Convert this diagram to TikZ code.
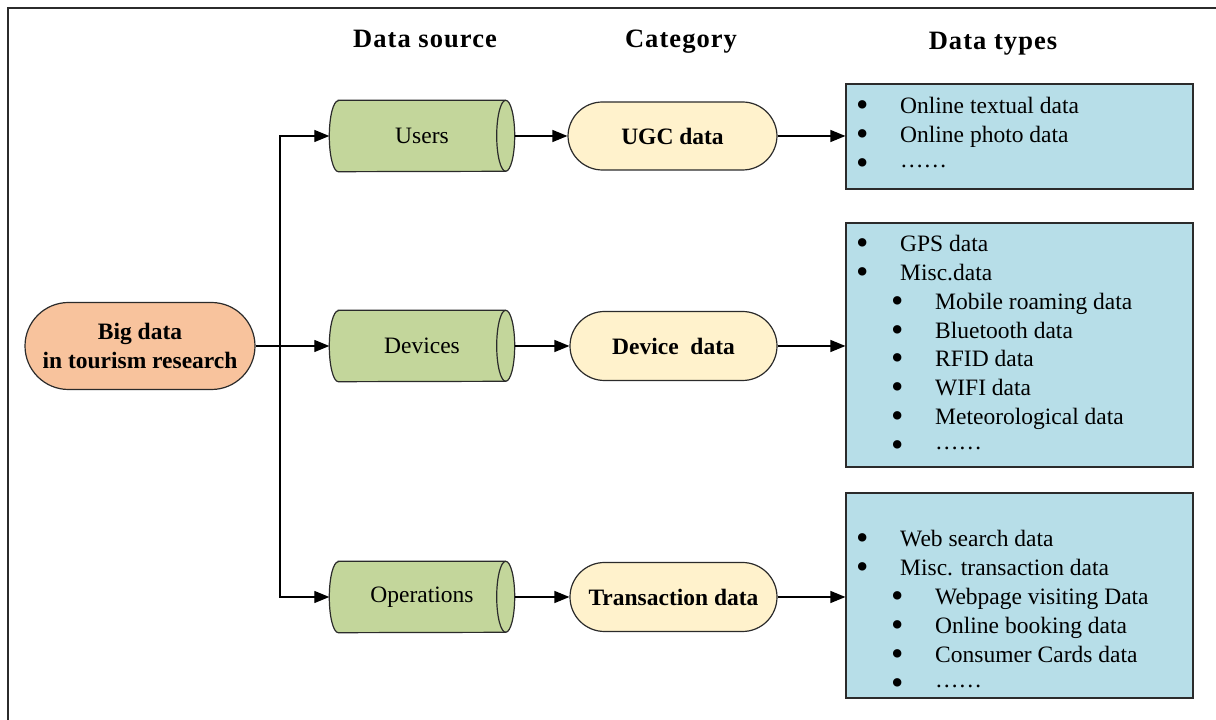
\documentclass[tikz,border=0pt]{standalone}
\usepackage{fontspec}
\usepackage{graphicx}
\setmainfont{Liberation Serif}
\newfontfamily\hdrfont[LetterSpace=4]{Liberation Serif}
\usetikzlibrary{arrows.meta,calc,backgrounds}

\definecolor{peach}{HTML}{F8C39D}
\definecolor{sage}{HTML}{C3D69B}
\definecolor{cream}{HTML}{FFF2CC}
\definecolor{paleblue}{HTML}{B7DEE8}
\definecolor{edge}{HTML}{2B2B2B}

% horizontal cylinder drawn behind a (borderless) node
\newcommand\cylbody[1]{%
  \begin{scope}[on background layer]
    \filldraw[draw=edge, fill=sage, line width=1.2pt]
      ($(#1.north west)+(9,0)$) -- ($(#1.north east)+(-9,0)$)
      arc[start angle=90, end angle=-90, x radius=9, y radius=35.5]
      -- ($(#1.south west)+(9,0)$)
      arc[start angle=270, end angle=90, x radius=9, y radius=35.5] -- cycle;
    \draw[edge, line width=1.2pt] ($(#1.north east)+(-9,0)$)
      arc[start angle=90, end angle=270, x radius=9, y radius=35.5];
  \end{scope}}

\begin{document}
\begin{tikzpicture}[x=1pt, y=1pt,
  every node/.style={inner sep=0pt, font=\fontsize{23.5}{29}\selectfont},
  hdr/.style={anchor=base, font=\fontsize{26.5}{30}\selectfont\hdrfont\bfseries},
  arr/.style={draw=black, line width=1.3pt, -{Triangle[length=15pt, width=12pt]}},
  rootbox/.style={draw=edge, line width=1.2pt, fill=peach, minimum width=230pt,
    minimum height=87pt, rounded corners=43.5pt, align=center,
    font=\fontsize{23.5}{29}\selectfont\bfseries},
  srcbox/.style={minimum width=185pt, minimum height=71pt},
  catbox/.style={draw=edge, line width=1.2pt, fill=cream, minimum width=207pt,
    minimum height=69pt, rounded corners=34.5pt,
    font=\fontsize{23.5}{29}\selectfont\bfseries},
  typebox/.style={draw=edge, line width=1.2pt, fill=paleblue, minimum width=347pt},
  item/.style={anchor=base west},
]
\useasboundingbox (0,0) rectangle (1216,720);

% outer frame (top and left edges)
\draw[edge, line width=2.5pt] (8,0) -- (8,712) -- (1216,712);

% column headings
\node[hdr] (hsrc) at (425,672) {Data source};
\node[hdr] (hcat) at (681,672) {Category};
\node[hdr] (htyp) at (993,670) {Data types};

% root
\node[rootbox] (root) at (140,374) {Big data\\in tourism research};

% data sources
\node[srcbox] (users) at (422,584) {Users};
\node[srcbox] (devices) at (422,374) {Devices};
\node[srcbox] (ops) at (422,123) {Operations};
\cylbody{users}
\cylbody{devices}
\cylbody{ops}

% categories
\node[catbox, minimum width=209pt, minimum height=68pt] (ugc) at (672.5,584) {UGC data};
\node[catbox] (dev) at (673.5,374) {Device\ \ data};
\node[catbox] (trans) at (673.5,123) {Transaction data};

% data type boxes
\node[typebox, minimum height=105pt] (t1) at (1019.5,583.5) {};
\node[typebox, minimum height=244pt] (t2) at (1019.5,375) {};
\node[typebox, minimum height=205pt] (t3) at (1019.5,124.5) {};

\newcommand\lvla[1]{\makebox[0pt]{\raisebox{-2.2pt}{\scalebox{1.5}{\textbullet}}}\hspace{38pt}#1}
\newcommand\dotsrow{\raisebox{4pt}{……}}

\node[item] (t1a) at (862,606) {\lvla{Online textual data}};
\node[item] (t1b) at (862,577) {\lvla{Online photo data}};
\node[item] (t1c) at (862,548) {\lvla{\dotsrow}};

\node[item] (t2a) at (862,468) {\lvla{GPS data}};
\node[item] (t2b) at (862,439) {\lvla{Misc.data}};
\node[item] (t2c) at (897,410) {\lvla{Mobile roaming data}};
\node[item] (t2d) at (897,381) {\lvla{Bluetooth data}};
\node[item] (t2e) at (897,353) {\lvla{RFID data}};
\node[item] (t2f) at (897,324) {\lvla{WIFI data}};
\node[item] (t2g) at (897,295) {\lvla{Meteorological data}};
\node[item] (t2h) at (897,266) {\lvla{\dotsrow}};

\node[item] (t3a) at (862,173) {\lvla{Web search data}};
\node[item] (t3b) at (862,144) {\lvla{Misc. transaction data}};
\node[item] (t3c) at (897,115) {\lvla{Webpage visiting Data}};
\node[item] (t3d) at (897,86) {\lvla{Online booking data}};
\node[item] (t3e) at (897,57) {\lvla{Consumer Cards data}};
\node[item] (t3f) at (897,28) {\lvla{\dotsrow}};

% connectors
\coordinate (trunk) at (280,374);
\draw[arr] (root.east) -- (devices.west);
\draw[arr] (trunk) |- (users.west);
\draw[arr] (trunk) |- (ops.west);

\draw[arr] (users.east) -- (ugc.west);
\draw[arr] (devices.east) -- (dev.west);
\draw[arr] (ops.east) -- (trans.west);

\draw[arr] (ugc.east) -- (ugc.east -| t1.west);
\draw[arr] (dev.east) -- (dev.east -| t2.west);
\draw[arr] (trans.east) -- (trans.east -| t3.west);
\end{tikzpicture}
\end{document}
